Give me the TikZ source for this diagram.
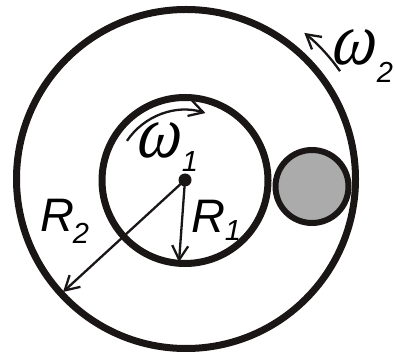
\documentclass[tikz,border=0pt]{standalone}
\usepackage{fontspec}
\setmainfont{Liberation Sans}
\newfontfamily\omfont{Liberation Serif}
\usetikzlibrary{arrows.meta}
\definecolor{ink}{HTML}{1A1616}
\definecolor{ballgray}{HTML}{ABABAB}
\tikzset{
  ring/.style={circle, draw=ink, line width=7pt, inner sep=0pt, outer sep=0pt},
  arr/.style={draw=ink, line width=2.3pt, -{Straight Barb[length=14pt,width=16pt,line width=2.3pt]}},
  rlab/.style={inner sep=0pt, font=\fontsize{47}{47}\selectfont\itshape},
  sublab/.style={inner sep=0pt, font=\fontsize{29}{29}\selectfont\itshape},
  olab/.style={inner sep=0pt, font=\omfont\fontsize{62}{62}\selectfont\itshape, transform shape, yscale=1.2, xslant=0.15},
}
\begin{document}
\begin{tikzpicture}[x=1pt,y=1pt]
\useasboundingbox (0,0) rectangle (395,358);
\node[ring, minimum size=339pt] (outer) at (186,179) {};
\node[ring, minimum size=166pt] (inner) at (185,177.5) {};
\node[ring, line width=6pt, fill=ballgray, minimum size=73pt] (ball) at (312,171.5) {};
\node[circle, fill=ink, inner sep=0pt, minimum size=13pt] (ctr) at (185,178) {};
\coordinate (r1end) at (179,96);
\coordinate (r2end) at (63,66);
\draw[arr] (ctr.center) -- (r1end);
\draw[arr] (ctr.center) -- (r2end);
\draw[arr] ([shift={(146:70)}]ctr.center) arc[start angle=146, end angle=73, radius=70];
\draw[arr] ([shift={(35:188)}]outer.center) arc[start angle=35, end angle=51, radius=188];
\node[rlab] (R2) at (57,142.5) {R};
\node[sublab] (R2s) at (81,125) {2};
\node[rlab] (R1) at (208,142) {R};
\node[sublab] (R1s) at (233,127) {1};
\node[olab] (w1) at (161,218) {ω};
\node[sublab] (w1s) at (190,196) {1};
\node[olab] (w2) at (356,311) {ω};
\node[sublab] (w2s) at (385,286) {2};
\end{tikzpicture}
\end{document}
